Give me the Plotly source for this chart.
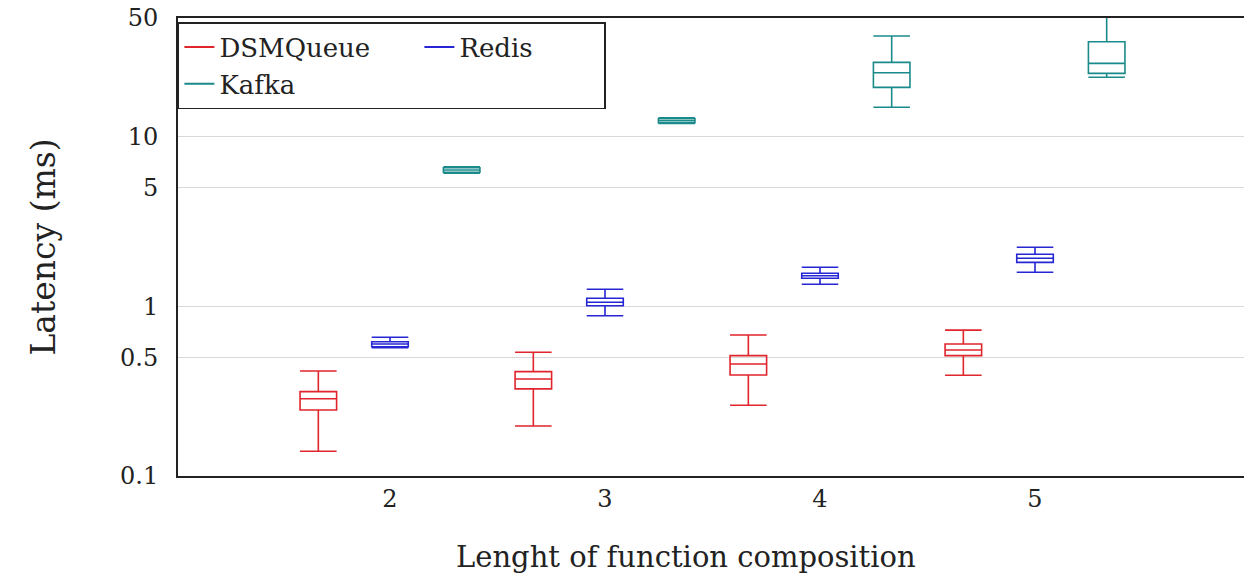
import math
import plotly.graph_objects as go

categories = [2, 3, 4, 5]

dsm_lower = [0.140, 0.197, 0.261, 0.392]
dsm_q1 = [0.245, 0.326, 0.394, 0.512]
dsm_median = [0.285, 0.373, 0.457, 0.553]
dsm_q3 = [0.314, 0.412, 0.512, 0.600]
dsm_upper = [0.416, 0.536, 0.678, 0.724]

redis_lower = [0.570, 0.880, 1.348, 1.586]
redis_q1 = [0.578, 1.008, 1.462, 1.816]
redis_median = [0.600, 1.056, 1.515, 1.918]
redis_q3 = [0.618, 1.115, 1.565, 2.025]
redis_upper = [0.657, 1.260, 1.700, 2.227]

kafka_lower = [6.08, 11.95, 14.9, 22.4]
kafka_q1 = [6.16, 12.08, 19.5, 23.6]
kafka_median = [6.36, 12.41, 23.8, 27.0]
kafka_q3 = [6.56, 12.75, 27.4, 36.2]
kafka_upper = [6.65, 12.90, 39.2, 55.0]

y_ticks = [0.1, 0.5, 1, 5, 10, 50]
y_ticktext = ["0.1", "0.5", "1", "5", "10", "50"]

x_title = "Lenght of function composition"
y_title = "Latency (ms)"

series = [
    ("DSMQueue", "#e0262c", dsm_lower, dsm_q1, dsm_median, dsm_q3, dsm_upper),
    ("Redis", "#2626d4", redis_lower, redis_q1, redis_median, redis_q3, redis_upper),
    ("Kafka", "#1b8a8a", kafka_lower, kafka_q1, kafka_median, kafka_q3, kafka_upper),
]
legend_widths = {"DSMQueue": 195, "Redis": 140, "Kafka": 195}

FONT = "DejaVu Serif"
INK = "#222222"

fig = go.Figure()
for name, color, lo, q1, med, q3, hi in series:
    fig.add_trace(go.Box(
        x=categories, q1=q1, median=med, q3=q3,
        lowerfence=lo, upperfence=hi,
        name=name, offsetgroup=name,
        line=dict(color=color, width=1.6),
        fillcolor="rgba(0,0,0,0)",
        whiskerwidth=1,
        boxpoints=False,
        showlegend=False,
    ))
for name, color, *_ in series:
    fig.add_trace(go.Scatter(
        x=[None], y=[None], mode="lines", name=name,
        line=dict(color=color, width=2),
        legendwidth=legend_widths[name],
    ))

y_range = [math.log10(min(y_ticks)) - 1e-6, math.log10(max(y_ticks)) + 1e-6]

fig.update_layout(
    width=1244, height=577,
    margin=dict(l=178, r=0, t=18, b=101, autoexpand=False),
    paper_bgcolor="white", plot_bgcolor="white",
    boxmode="group", boxgap=0, boxgroupgap=0.49,
    font=dict(family=FONT, color=INK, size=24),
    showlegend=True,
    legend=dict(
        x=-0.0001, y=0.991, xanchor="left", yanchor="top",
        orientation="h",
        bgcolor="white", bordercolor=INK, borderwidth=1.5,
        font=dict(family=FONT, size=26, color=INK),
    ),
    xaxis=dict(
        range=[1.014, 5.972], tickvals=categories,
        ticktext=[str(c) for c in categories],
        showgrid=False, zeroline=False,
        showline=True, linecolor=INK, linewidth=2, mirror=True,
        ticks="", ticklabelstandoff=0,
    ),
    yaxis=dict(
        type="log", range=y_range,
        tickvals=y_ticks, ticktext=y_ticktext,
        showgrid=True, gridcolor="#d9d9d9", gridwidth=1.2,
        zeroline=False,
        showline=True, linecolor=INK, linewidth=2, mirror=False,
        ticks="", ticklabelstandoff=13,
        title=dict(text=y_title, standoff=54,
                   font=dict(family=FONT, size=33)),
    ),
    annotations=[dict(
        text=x_title, xref="paper", yref="paper",
        x=0.4762, y=0, xanchor="center", yanchor="middle",
        yshift=-81, showarrow=False,
        font=dict(family=FONT, size=29, color=INK),
    )],
)

fig.write_html(
    "out.html",
    config={"displayModeBar": False},
    post_script="document.body.style.margin='0';document.body.style.overflow='hidden';",
)
